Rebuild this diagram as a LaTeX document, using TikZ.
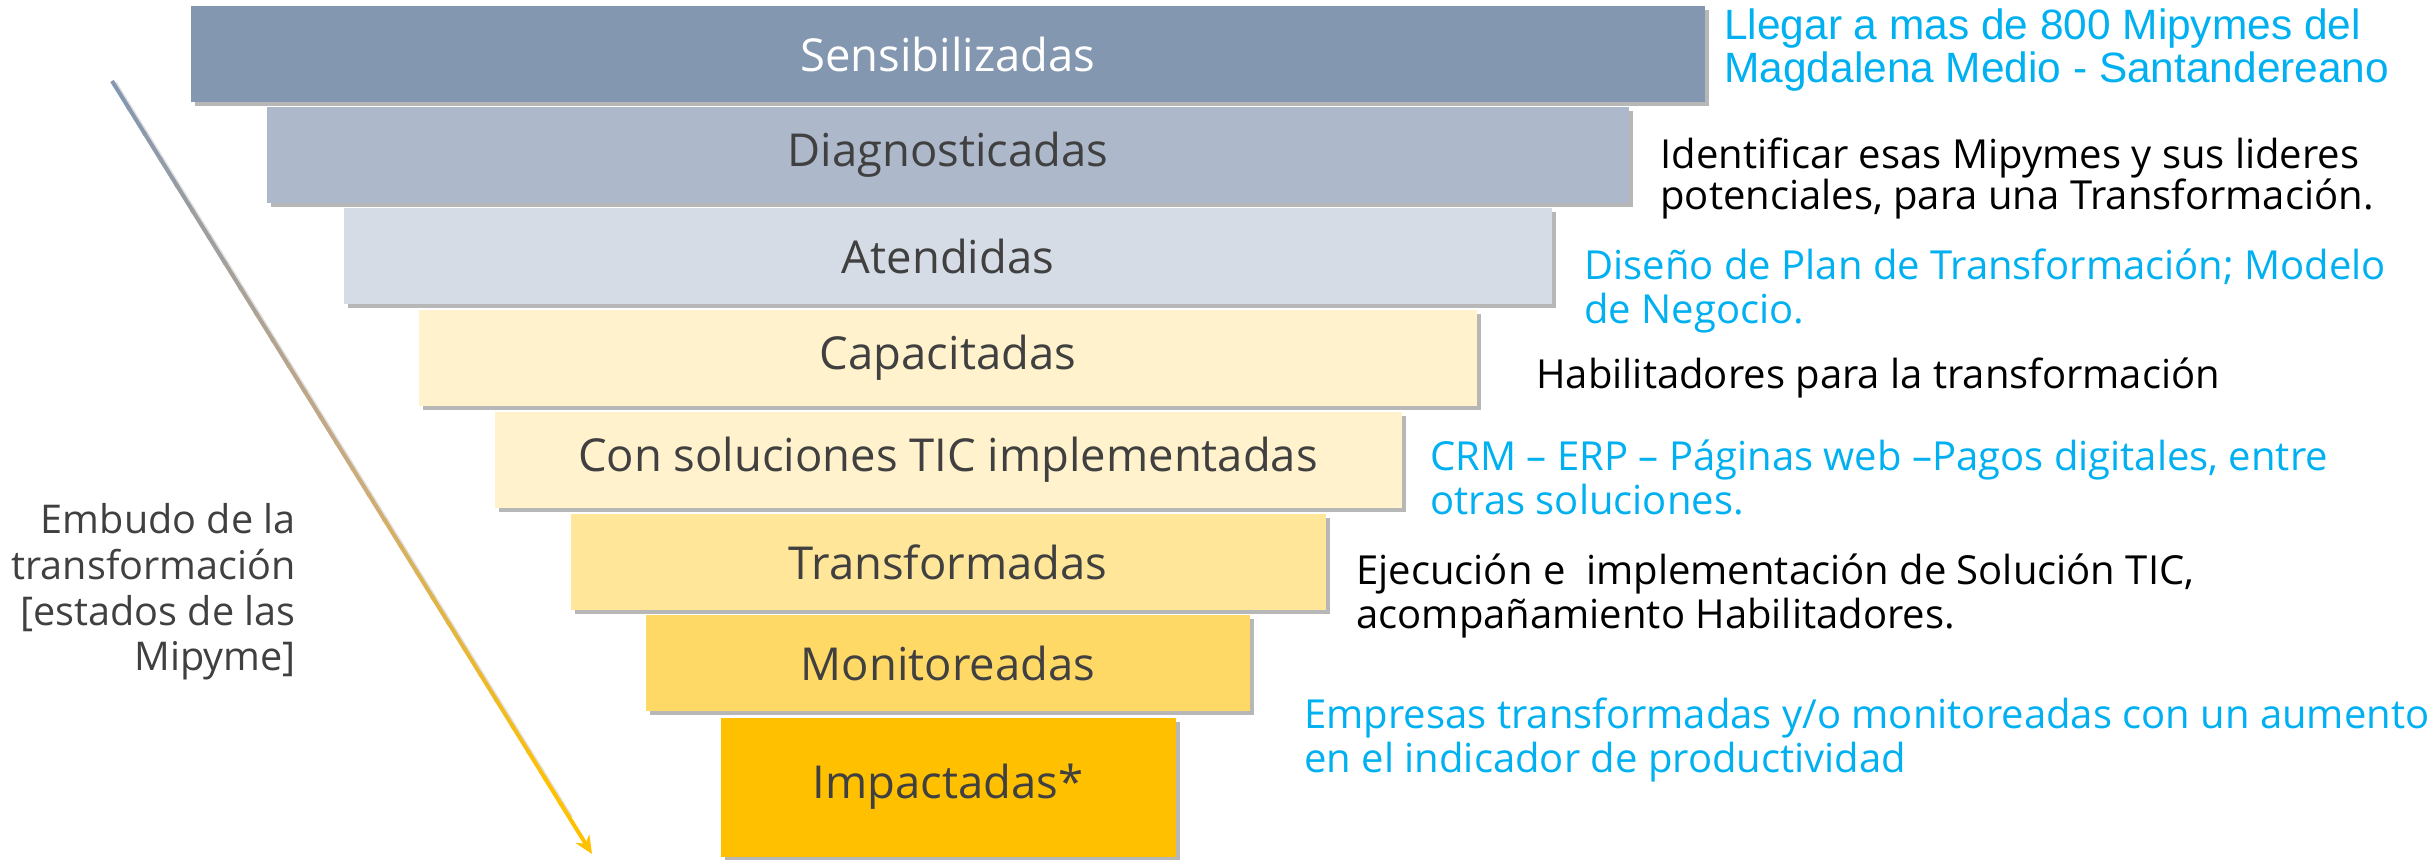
\documentclass[tikz,border=0pt]{standalone}
\usepackage{fontspec}
\setmainfont{Open Sans}
\newfontfamily\arialfont{Liberation Sans}
\usetikzlibrary{shadows,calc,arrows.meta}
\definecolor{slate}{RGB}{132,151,176}
\definecolor{slatemid}{RGB}{173,185,202}
\definecolor{slatelight}{RGB}{214,220,229}
\definecolor{creamy}{RGB}{255,242,204}
\definecolor{sand}{RGB}{255,230,153}
\definecolor{honey}{RGB}{255,217,102}
\definecolor{gold}{RGB}{255,192,0}
\definecolor{midtan}{RGB}{200,170,130}
\definecolor{skyblue}{RGB}{0,176,240}
\definecolor{ink}{RGB}{64,64,64}

\begin{document}
\begin{tikzpicture}[x=0.5pt, y=-0.5pt,
  stage/.style={rectangle, inner sep=0pt, minimum height=48pt, text=ink,
    font=\fontsize{22.7}{26}\selectfont,
    drop shadow={shadow xshift=2pt, shadow yshift=-2pt, opacity=0.4, fill=black!70}},
  goal/.style={anchor=west, align=left, inner sep=0pt, text=black,
    font=\fontsize{20}{22}\selectfont},
  bluegoal/.style={goal, text=skyblue}]
\useasboundingbox (0,0) rectangle (2435,859);
% funnel stages
\node (sens) [stage, fill=slate, text=white, minimum width=757pt] at (948, 54) {Sensibilizadas};
\node (diag) [stage, fill=slatemid, minimum width=681pt] at (948, 155) {Diagnosticadas};
\node (aten) [stage, fill=slatelight, minimum width=604pt] at (948, 256) {Atendidas};
\node (capa) [stage, fill=creamy, minimum width=529pt] at (948, 358) {Capacitadas};
\node (tic) [stage, fill=creamy, minimum width=453.5pt] at (948, 460) {Con soluciones TIC implementadas};
\node (trans) [stage, fill=sand, minimum width=377.5pt] at (948, 562) {Transformadas};
\node (moni) [stage, fill=honey, minimum width=302pt] at (948, 663) {Monitoreadas};
\node (impa) [stage, fill=gold, minimum width=227.5pt, minimum height=69.5pt] at (948, 787) {Impactadas*};
% goals
\node (g1) [bluegoal, font=\arialfont\fontsize{21.2}{21.5}\selectfont] at (1724, 50) {Llegar a mas de 800 Mipymes del\\Magdalena Medio - Santandereano};
\node (g2) [goal, font=\fontsize{20}{20.5}\selectfont] at (1660, 178) {Identificar esas Mipymes y sus lideres\\potenciales, para una Transformación.};
\node (g3) [bluegoal] at (1584, 291) {Diseño de Plan de Transformación; Modelo\\de Negocio.};
\node (g4) [goal] at (1536, 378) {Habilitadores para la transformación};
\node (g5) [bluegoal] at (1430, 477) {CRM – ERP – Páginas web –Pagos digitales, entre\\otras soluciones.};
\node (g6) [goal] at (1356, 596) {Ejecución e\ \ implementación de Solución TIC,\\acompañamiento Habilitadores.};
\node (g7) [bluegoal] at (1304, 740) {Empresas transformadas y/o monitoreadas con un aumento\\en el indicador de productividad};
% side label and arrow
\node (embudo) [anchor=east, align=right, inner sep=0pt, text=ink, font=\fontsize{19.8}{22.8}\selectfont] at (296, 592) {Embudo de la\\transformación\\{[}estados de las\\Mipyme{]}};
\coordinate (arrtop) at (112, 81);
\coordinate (arrtip) at (592, 854);
\draw [line width=2pt, black!25, opacity=0.5] ($(arrtop)+(3,2)$) -- ($(arrtop)!0.95!(arrtip)+(3,2)$);
\foreach \k in {0,...,13} {
  \pgfmathtruncatemacro{\pct}{100*\k/14}
  \draw [line width=2pt, color=midtan!\pct!slate] ($(arrtop)!{\k/30}!(arrtip)$) -- ($(arrtop)!{(\k+1.1)/30}!(arrtip)$);
}
\foreach \k in {14,...,27} {
  \pgfmathtruncatemacro{\pct}{100*(\k-14)/13}
  \draw [line width=2pt, color=gold!\pct!midtan] ($(arrtop)!{\k/30}!(arrtip)$) -- ($(arrtop)!{(\k+1.1)/30}!(arrtip)$);
}
\draw [line width=2pt, color=gold, -{Stealth[length=9pt, width=8pt]}] ($(arrtop)!{28/30}!(arrtip)$) -- (arrtip);
\end{tikzpicture}
\end{document}
